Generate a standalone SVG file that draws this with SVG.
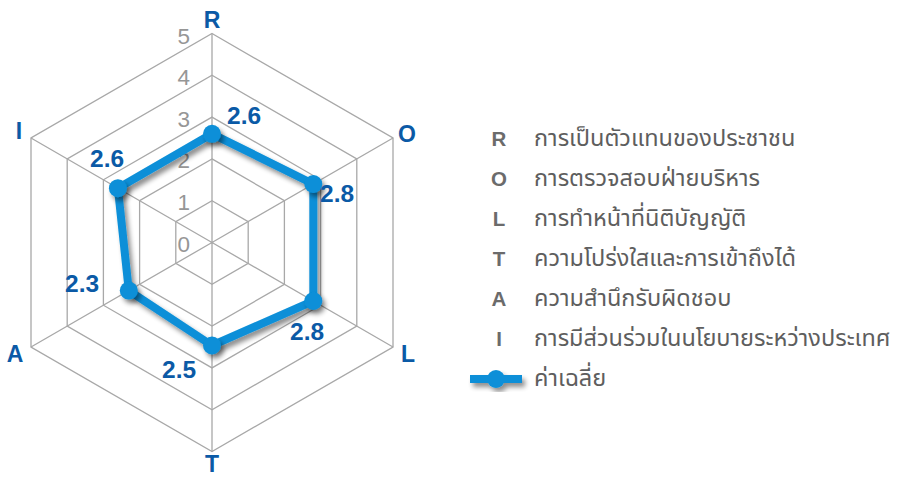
<svg xmlns="http://www.w3.org/2000/svg" width="902" height="477" viewBox="0 0 902 477">
<defs>
<style>
.grid{fill:none;stroke:#a8a8a8;stroke-width:1.3}
.scale{font-family:"Liberation Sans",sans-serif;font-size:22.5px;fill:#969696;text-anchor:end}
.axis{font-family:"Liberation Sans",sans-serif;font-size:23px;font-weight:bold;fill:#0b5aa6;text-anchor:middle}
.val{font-family:"Liberation Sans",sans-serif;font-size:24.5px;font-weight:bold;fill:#0b5aa6}
.series{fill:none;stroke:#0a8fd8;stroke-width:8;stroke-linejoin:round}
.dot{fill:#0a8fd8}
.lk{font-family:"Liberation Sans",sans-serif;font-size:20.5px;font-weight:bold;fill:#6b6b6b;text-anchor:middle}
.lt{font-family:"Noto Sans Thai","Noto Sans","Noto Sans Thai UI",sans-serif;font-size:23.5px;fill:#5e5e5e}
</style>
<filter id="sh" x="-20%" y="-20%" width="140%" height="140%">
<feGaussianBlur in="SourceAlpha" stdDeviation="2.5"/>
<feOffset dx="3" dy="4" result="b"/>
<feComponentTransfer><feFuncA type="linear" slope="0.45"/></feComponentTransfer>
<feMerge><feMergeNode/><feMergeNode in="SourceGraphic"/></feMerge>
</filter>
</defs>
<rect width="902" height="477" fill="#ffffff"/>
<g id="grid">
<polygon class="grid" points="212,200.7 248.2,221.6 248.2,263.4 212,284.3 175.8,263.4 175.8,221.6"/>
<polygon class="grid" points="212,158.9 284.4,200.7 284.4,284.3 212,326.1 139.6,284.3 139.6,200.7"/>
<polygon class="grid" points="212,117.1 320.6,179.8 320.6,305.2 212,367.9 103.4,305.2 103.4,179.8"/>
<polygon class="grid" points="212,75.3 356.8,158.9 356.8,326.1 212,409.7 67.2,326.1 67.2,158.9"/>
<polygon class="grid" points="212,33.5 393,138 393,347 212,451.5 31,347 31,138"/>
<path class="grid" d="M212,242.5L212,33.5M212,242.5L393,138M212,242.5L393,347M212,242.5L212,451.5M212,242.5L31,347M212,242.5L31,138"/>
</g>
<g id="scale">
<text class="scale" x="190" y="252">0</text>
<text class="scale" x="190" y="210">1</text>
<text class="scale" x="190" y="168">2</text>
<text class="scale" x="190" y="127">3</text>
<text class="scale" x="190" y="85">4</text>
<text class="scale" x="190" y="44">5</text>
</g>
<g id="axis-labels">
<text class="axis" x="212" y="28">R</text>
<text class="axis" x="407" y="142">O</text>
<text class="axis" x="408" y="362">L</text>
<text class="axis" x="212" y="472">T</text>
<text class="axis" x="15" y="362">A</text>
<text class="axis" x="19" y="139">I</text>
</g>
<g id="connectors" filter="url(#sh)">
<polygon class="series" points="212,133.8 313.3,184 313.3,301 212,345.5 128.8,290.6 117.9,188.2"/>
</g>
<g id="points" filter="url(#sh)">
<circle class="dot" cx="212" cy="133.8" r="9"/>
<circle class="dot" cx="313.3" cy="184" r="9"/>
<circle class="dot" cx="313.3" cy="301" r="9"/>
<circle class="dot" cx="212" cy="345.5" r="9"/>
<circle class="dot" cx="128.8" cy="290.6" r="9"/>
<circle class="dot" cx="117.9" cy="188.2" r="9"/>
</g>
<g id="values">
<text class="val" x="227" y="124">2.6</text>
<text class="val" x="320" y="202">2.8</text>
<text class="val" x="290" y="340">2.8</text>
<text class="val" x="162" y="378">2.5</text>
<text class="val" x="65" y="292">2.3</text>
<text class="val" x="90" y="167">2.6</text>
</g>
<g id="legend">
<text class="lk" x="499" y="146">R</text>
<text class="lt" x="534" y="146">การเป็นตัวแทนของประชาชน</text>
<text class="lk" x="499" y="186">O</text>
<text class="lt" x="534" y="186">การตรวจสอบฝ่ายบริหาร</text>
<text class="lk" x="499" y="226">L</text>
<text class="lt" x="534" y="226">การทำหน้าที่นิติบัญญัติ</text>
<text class="lk" x="499" y="266">T</text>
<text class="lt" x="534" y="266">ความโปร่งใสและการเข้าถึงได้</text>
<text class="lk" x="499" y="306">A</text>
<text class="lt" x="534" y="306">ความสำนึกรับผิดชอบ</text>
<text class="lk" x="499" y="346">I</text>
<text class="lt" x="534" y="346">การมีส่วนร่วมในนโยบายระหว่างประเทศ</text>
<g id="legend-series" filter="url(#sh)">
<line x1="470" y1="379" x2="522" y2="379" stroke="#0a8fd8" stroke-width="8"/>
<circle class="dot" cx="496" cy="379" r="9"/>
</g>
<text class="lt" x="534" y="386">ค่าเฉลี่ย</text>
</g>
</svg>
